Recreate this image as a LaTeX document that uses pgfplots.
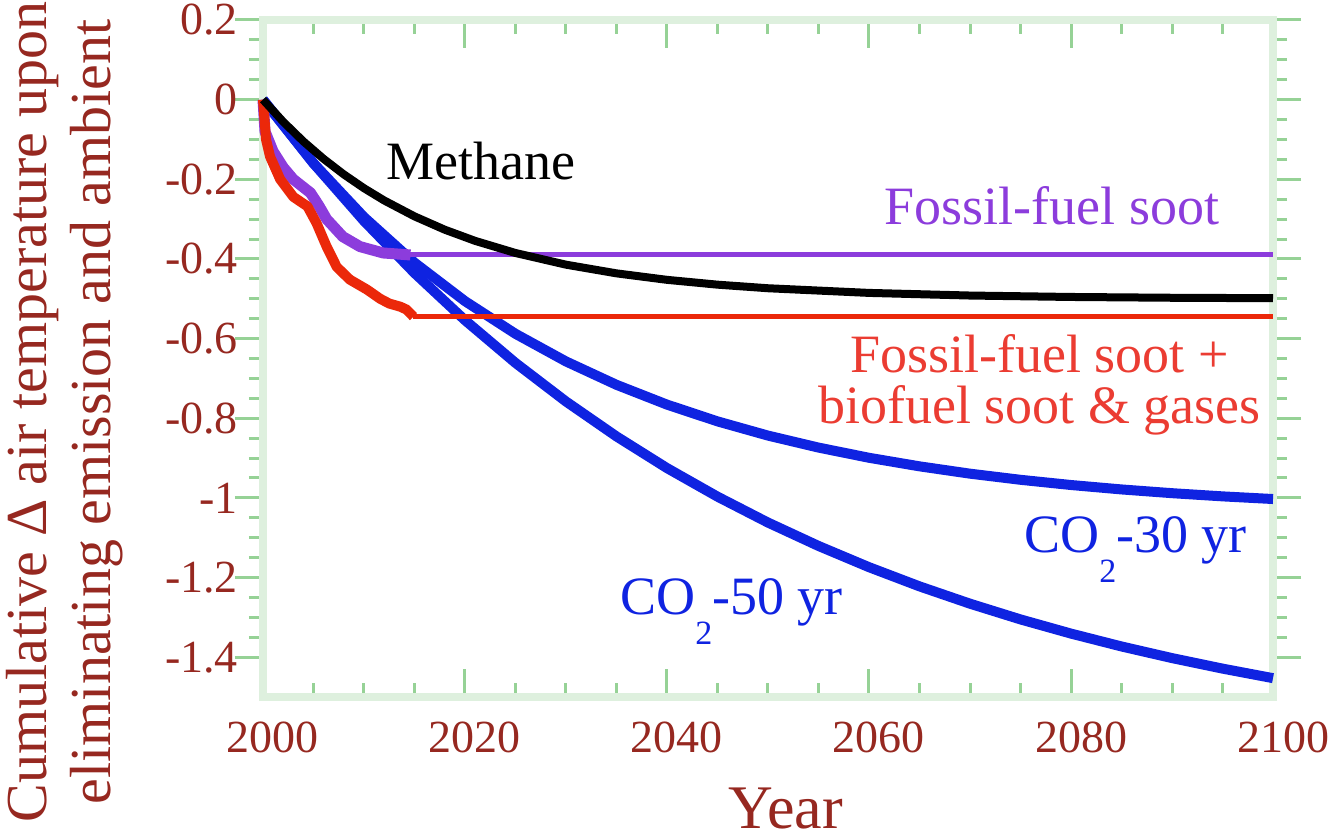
\documentclass[border=0pt]{standalone}
\usepackage{fontspec}
\setmainfont{Liberation Serif}
\usepackage{pgfplots}
\pgfplotsset{compat=1.18}
\definecolor{axgreen}{RGB}{222,240,222}
\definecolor{tkgreen}{RGB}{150,210,150}
\definecolor{lblred}{RGB}{150,40,32}
\definecolor{cblue}{RGB}{15,35,225}
\definecolor{cpurple}{RGB}{140,60,220}
\definecolor{cred}{RGB}{235,40,10}
\definecolor{tred}{RGB}{235,60,50}
\begin{document}
\begin{tikzpicture}
\begin{axis}[name=ax, at={(0,0)}, anchor=south west, scale only axis,
 width=505pt, height=338.5pt,
 xmin=2000, xmax=2100, ymin=-1.5, ymax=0.2,
 xtick={2000,2020,2040,2060,2080,2100},
 ytick={-1.4,-1.2,-1,-0.8,-0.6,-0.4,-0.2,0,0.2},
 minor x tick num=3, minor y tick num=3,
 xtick align=inside, ytick align=outside,
 major tick length=14pt, minor tick length=7pt,
 axis line style={draw=axgreen, line width=4pt},
 tick style={draw=tkgreen, line width=1.5pt},
 tick label style={font=\fontsize{23}{23}\selectfont, text=lblred, /pgf/number format/assume math mode=true},
 xticklabel style={/pgf/number format/1000 sep={}, yshift=-9pt, xshift=5pt},
 yticklabel style={xshift=5pt},
 clip=false,
]
% CO2-50 yr
\addplot[cblue, line width=5pt] coordinates {
(2000,0) (2005,-0.1599) (2010,-0.3046) (2015,-0.4354) (2020,-0.5539) (2025,-0.6611)
(2030,-0.7580) (2035,-0.8457) (2040,-0.9252) (2045,-0.9969) (2050,-1.0620) (2055,-1.1207)
(2060,-1.1740) (2065,-1.2222) (2070,-1.2657) (2075,-1.3052) (2080,-1.3408) (2085,-1.3731)
(2090,-1.4023) (2095,-1.4287) (2100,-1.4527)};
% CO2-30 yr
\addplot[cblue, line width=5pt] coordinates {
(2000,0) (2005,-0.1597) (2010,-0.2949) (2015,-0.4093) (2020,-0.5060) (2025,-0.5880)
(2030,-0.6574) (2035,-0.7161) (2040,-0.7658) (2045,-0.8079) (2050,-0.8436) (2055,-0.8737)
(2060,-0.8993) (2065,-0.9208) (2070,-0.9392) (2075,-0.9546) (2080,-0.9677) (2085,-0.9788)
(2090,-0.9882) (2095,-0.9962) (2100,-1.0029)};
% Fossil-fuel soot (purple)
\addplot[cpurple, line width=2.5pt] coordinates {(2014.6,-0.39) (2100,-0.39)};
\addplot[cpurple, line width=5.5pt, line join=round] coordinates {
(2000,0) (2000.2,-0.08) (2001,-0.13) (2002,-0.17) (2003,-0.20) (2004.7,-0.234)
(2005.5,-0.265) (2006.3,-0.30) (2007.9,-0.344) (2009.6,-0.369) (2011.9,-0.385) (2014.6,-0.39)};
% Fossil-fuel soot + biofuel soot & gases (red)
\addplot[cred, line width=2.5pt] coordinates {(2014.9,-0.545) (2100,-0.545)};
\addplot[cred, line width=5pt, line join=round] coordinates {
(2000,0) (2000.3,-0.10) (2000.7,-0.143) (2001.7,-0.20) (2003.0,-0.244) (2004.4,-0.268)
(2005.3,-0.31) (2006.3,-0.369) (2007.3,-0.42) (2008.6,-0.452) (2010.3,-0.477)
(2011.6,-0.50) (2012.5,-0.512) (2013.6,-0.52) (2014.2,-0.527) (2014.9,-0.545)};
% Methane
\addplot[black, line width=4pt] coordinates {
(2000,0) (2002,-0.0555) (2004,-0.1049) (2006,-0.1487) (2008,-0.1877) (2010,-0.2224)
(2012,-0.2532) (2015,-0.2931) (2018,-0.3266) (2021,-0.3546) (2025,-0.3851) (2030,-0.4144)
(2035,-0.4362) (2040,-0.4525) (2045,-0.4646) (2050,-0.4736) (2060,-0.4853) (2070,-0.4919)
(2080,-0.4955) (2090,-0.4975) (2100,-0.4986)};
% annotations
\node[anchor=base, font=\fontsize{27}{27}\selectfont, text=black] at (axis cs:2021.6,-0.201) {Methane};
\node[anchor=base, font=\fontsize{27}{27}\selectfont, text=cpurple] at (axis cs:2078.1,-0.314) {Fossil-fuel soot};
\node[anchor=north, inner sep=0pt, align=center, font=\fontsize{27}{25.5}\selectfont, text=tred] at (axis cs:2076.9,-0.588) {Fossil-fuel soot +\\biofuel soot \& gases};
\node[anchor=base, font=\fontsize{27}{27}\selectfont, text=cblue] at (axis cs:2086.4,-1.136) {CO\raisebox{-15pt}{\fontsize{17}{17}\selectfont 2}-30 yr};
\node[anchor=base, font=\fontsize{27}{27}\selectfont, text=cblue] at (axis cs:2046.4,-1.294) {CO\raisebox{-15pt}{\fontsize{17}{17}\selectfont 2}-50 yr};
\end{axis}
\node[rotate=90, align=center, font=\fontsize{29}{32}\selectfont, text=lblred] at ([shift={(-99pt,142.5pt)}]ax.south west) {Cumulative Δ air temperature upon\\eliminating emission and ambient};
\node[anchor=base, inner sep=0pt, font=\fontsize{31}{31}\selectfont, text=lblred] at ([shift={(261.5pt,-66pt)}]ax.south west) {Year};
\pgfresetboundingbox
\path ([shift={(-131.5pt,-71.5pt)}]ax.south west) rectangle ++(667.5pt,420pt);
\end{tikzpicture}
\end{document}
